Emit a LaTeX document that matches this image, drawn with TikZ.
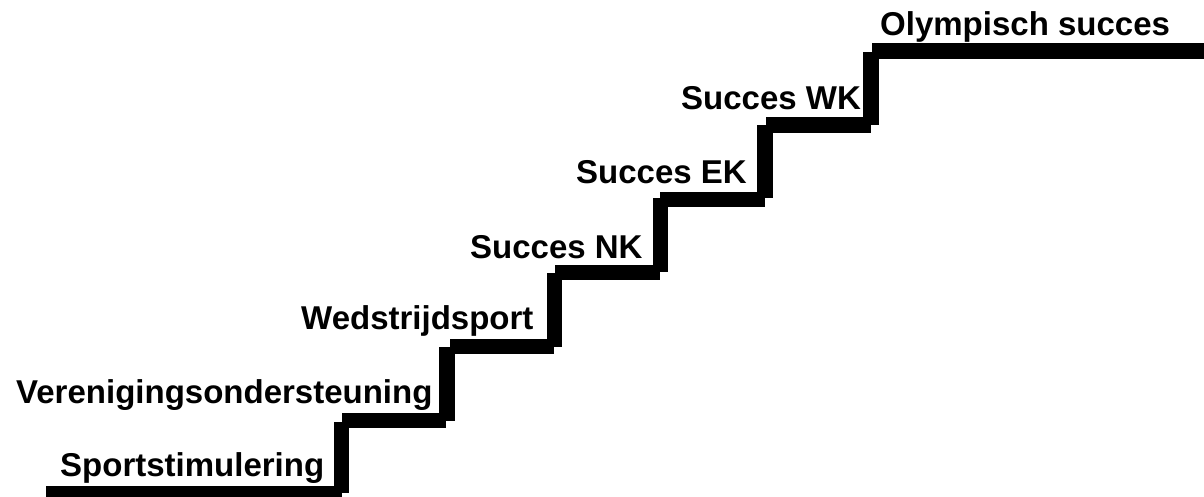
\documentclass[tikz,border=0pt]{standalone}
\usepackage{fontspec}
\setmainfont{Liberation Sans}
\begin{document}
\begin{tikzpicture}[x=1pt,y=-1pt,
  bar/.style={fill=black},
  lbl/.style={anchor=base west,inner sep=0pt,font=\fontsize{33}{37}\selectfont\bfseries}]
\useasboundingbox (0,0) rectangle (1204,497);
% horizontal treads
\fill[bar] (46,486) rectangle (342,497);
\fill[bar] (342,413) rectangle (446,428);
\fill[bar] (450,339) rectangle (554,354);
\fill[bar] (555,265) rectangle (660,280);
\fill[bar] (660,192) rectangle (765,207);
\fill[bar] (766,117) rectangle (871,133);
\fill[bar] (872,43) rectangle (1204,59);
% vertical risers
\fill[bar] (334,422) rectangle (349,493);
\fill[bar] (439,347) rectangle (455,421);
\fill[bar] (547,273) rectangle (562,347);
\fill[bar] (653,198) rectangle (668,272);
\fill[bar] (757,125) rectangle (773,198);
\fill[bar] (863,52) rectangle (879,125);
% labels
\node[lbl] (l1) at (60,476) {Sportstimulering};
\node[lbl] (l2) at (16,403) {Verenigingsondersteuning};
\node[lbl] (l3) at (301,329) {Wedstrijdsport};
\node[lbl] (l4) at (470,258) {Succes NK};
\node[lbl] (l5) at (576,184) {Succes EK};
\node[lbl] (l6) at (681,110) {Succes WK};
\node[lbl] (l7) at (880,36) {Olympisch succes};
\end{tikzpicture}
\end{document}
